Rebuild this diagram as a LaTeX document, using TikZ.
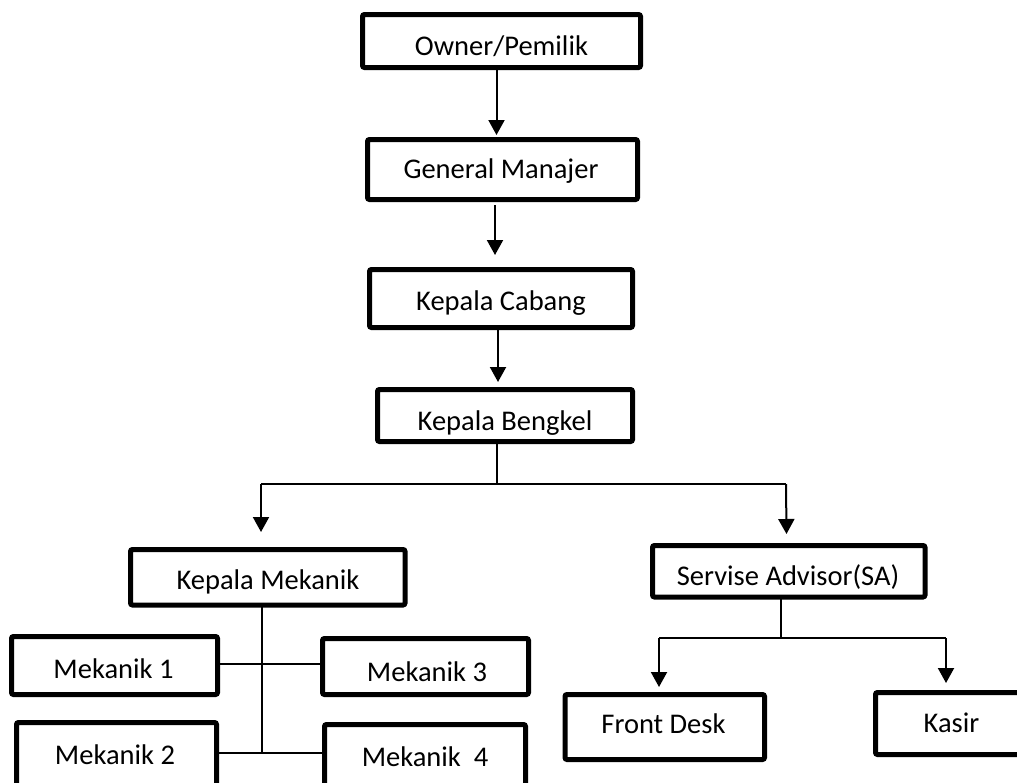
\documentclass[tikz,border=0pt]{standalone}
\usepackage{fontspec}
\setmainfont{Carlito}
\usetikzlibrary{arrows.meta}

\begin{document}
\begin{tikzpicture}[x=1pt,y=-1pt,
  box/.style={draw=black, line width=5pt, rounded corners=2pt, inner sep=0pt, outer sep=0pt, rectangle},
  lbl/.style={anchor=base, inner sep=0pt, font=\fontsize{28.5}{34}\selectfont},
  arr/.style={line width=2pt, -{Triangle[length=15pt,width=16pt]}},
  link/.style={line width=1.3pt}]
\useasboundingbox (0,0) rectangle (1017,782);
\clip (0,0) rectangle (1017,782);

% labels
\node[lbl] (own-t)  at (501.5,55)  {Owner/Pemilik};
\node[lbl] (gm-t)   at (501,178)   {General Manajer};
\node[lbl] (cab-t)  at (501,310)   {Kepala Cabang};
\node[lbl] (bkl-t)  at (505,430)   {Kepala Bengkel};
\node[lbl] (kmk-t)  at (268,589)   {Kepala Mekanik};
\node[lbl] (sa-t)   at (788,585)   {Servise Advisor(SA)};
\node[lbl] (mk1-t)  at (113.5,678) {Mekanik 1};
\node[lbl] (mk3-t)  at (427,681)   {Mekanik 3};
\node[lbl] (mk2-t)  at (115,764)   {Mekanik 2};
\node[lbl] (mk4-t)  at (425,766)   {Mekanik\ \ 4};
\node[lbl] (fd-t)   at (663.5,733) {Front Desk};
\node[lbl] (ks-t)   at (951.5,732) {Kasir};

% boxes
\node[box, minimum width=278pt,   minimum height=53pt]   (own) at (501.5,41)     {};
\node[box, minimum width=270pt,   minimum height=60pt]   (gm)  at (502.5,169.5)  {};
\node[box, minimum width=263pt,   minimum height=58pt]   (cab) at (501,298.5)    {};
\node[box, minimum width=255pt,   minimum height=52pt]   (bkl) at (505,415.5)    {};
\node[box, minimum width=274.5pt, minimum height=55.5pt] (kmk) at (267.75,577.25){};
\node[box, minimum width=272.5pt, minimum height=51.5pt] (sa)  at (788.75,571.25){};
\node[box, minimum width=206pt,   minimum height=58pt]   (mk1) at (114.5,665.5)  {};
\node[box, minimum width=206pt,   minimum height=56pt]   (mk3) at (425.5,666.5)  {};
\node[box, minimum width=200pt,   minimum height=67.5pt] (mk2) at (116.5,756.25) {};
\node[box, minimum width=201pt,   minimum height=65.5pt] (mk4) at (425,757.25)   {};
\node[box, minimum width=199.5pt, minimum height=65pt]   (fd)  at (664.75,727)   {};
\node[box, minimum width=154.5pt, minimum height=62pt]   (ks)  at (952.75,723.5) {};

% straight chain at the top
\draw[arr] (own.south -| 496.5,0) -- (496.5,135);
\draw[arr] (495,205) -- (495,255);
\draw[arr] (cab.south -| 498,0) -- (498,382);

% Kepala Bengkel branches
\coordinate (jb)  at (497,484);
\coordinate (jbl) at (261,484);
\coordinate (jbr) at (786,484);
\draw[link] (bkl.south -| jb) -- (jb);
\draw[link] (jbl) -- (jbr);
\draw[arr] (jbl) -- (261,532);
\draw[arr] (jbr) -- (786.5,534);

% Servise Advisor branches
\coordinate (js)  at (781,638);
\coordinate (jsl) at (659,638);
\coordinate (jsr) at (946,638);
\draw[link] (sa.south -| js) -- (js);
\draw[link] (jsl) -- (jsr);
\draw[arr] (jsl) -- (659,687);
\draw[arr] (jsr) -- (946,683);

% Kepala Mekanik links
\coordinate (jm) at (262,754);
\draw[link] (kmk.south -| jm) -- (jm);
\draw[link] (mk1.east |- 0,664) -- (mk3.west |- 0,664);
\draw[link] (mk2.east |- 0,753) -- (mk4.west |- 0,753);
\end{tikzpicture}
\end{document}
